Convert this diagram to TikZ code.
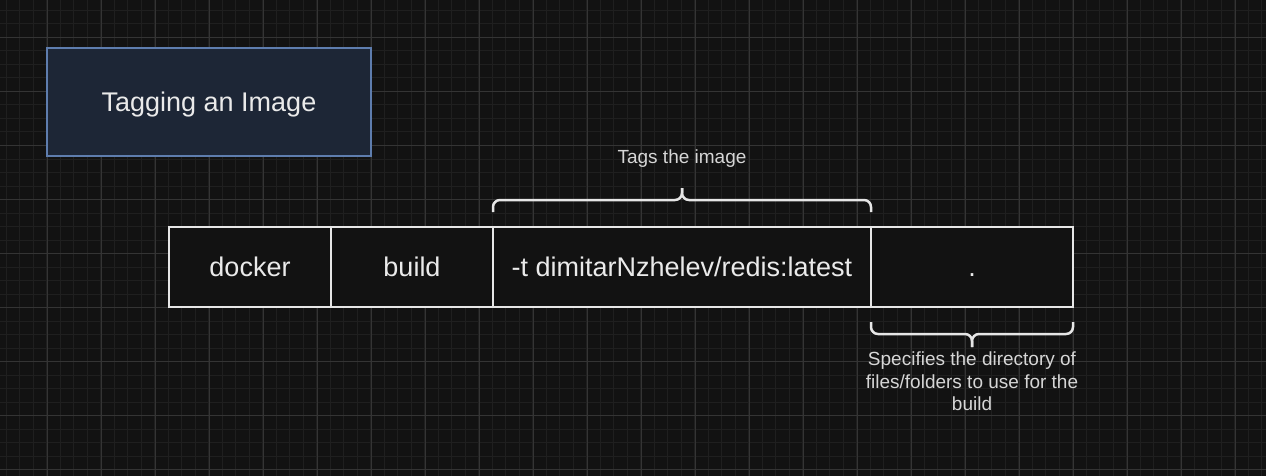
\documentclass[tikz,border=0pt]{standalone}
\usepackage{fontspec}
\setmainfont{Liberation Sans}
\definecolor{bg}{HTML}{121212}
\definecolor{gridminor}{HTML}{1F1F1F}
\definecolor{gridmajor}{HTML}{343434}
\definecolor{titlefill}{HTML}{1D2636}
\definecolor{titleborder}{HTML}{5E7DAE}
\definecolor{cellline}{HTML}{E6E6E6}
\definecolor{txt}{HTML}{EAEAEA}
\definecolor{smalltxt}{HTML}{D6D6D6}
\tikzset{
  minorline/.style={draw=gridminor, line width=1pt},
  majorline/.style={draw=gridmajor, line width=1pt},
  bigtext/.style={text=txt, font=\fontsize{27}{32}\selectfont, text height=25.1pt, text depth=5.7pt},
  titlebox/.style={bigtext, draw=titleborder, fill=titlefill, line width=2.5pt, minimum width=324pt, minimum height=108pt, inner sep=0pt},
  cell/.style={bigtext, draw=cellline, fill=bg, line width=2.5pt, minimum height=80pt, inner sep=0pt},
  bracestyle/.style={draw=cellline, line width=2.5pt, rounded corners=7pt},
  smalllabel/.style={text=smalltxt, font=\fontsize{19}{22.3}\selectfont, align=center, inner sep=0pt},
}
\begin{document}
\begin{tikzpicture}[x=1pt, y=-1pt]
\fill[bg] (0,0) rectangle (1266,476);
\useasboundingbox (0,0) rectangle (1266,476);
% grid
\foreach \i in {0,...,93} {\draw[minorline] ({6+13.5*\i},0) -- ({6+13.5*\i},476);}
\foreach \j in {0,...,35} {\draw[minorline] (0,{10.5+13.5*\j}) -- (1266,{10.5+13.5*\j});}
\foreach \i in {0,...,23} {\draw[majorline] ({-7+54*\i},0) -- ({-7+54*\i},476);}
\foreach \j in {0,...,9} {\draw[majorline] (0,{-16.5+54*\j}) -- (1266,{-16.5+54*\j});}
% title
\node[titlebox] (title) at (209,102) {Tagging an Image};
% command cells
\node[cell, minimum width=162pt] (docker) at (250,267) {docker};
\node[cell, minimum width=162pt] (build) at (412,267) {build};
\node[cell, minimum width=378pt] (tag) at (682,267) {-t dimitarNzhelev/redis:latest};
\node[cell, minimum width=202pt] (dot) at (972,267) {.};
% upper brace
\coordinate (ubl) at (493,212);
\coordinate (ubr) at (871,212);
\coordinate (ubtip) at (682,188);
\draw[bracestyle] (ubl) -- (493,200) -- (682,200) -- (ubtip);
\draw[bracestyle] (ubr) -- (871,200) -- (682,200) -- (ubtip);
\node[smalllabel, text height=17.7pt, text depth=4pt] (taglabel) at (682,157) {Tags the image};
% lower brace
\coordinate (lbl) at (871,322);
\coordinate (lbr) at (1073,322);
\coordinate (lbtip) at (972,347);
\draw[bracestyle] (lbl) -- (871,334) -- (972,334) -- (lbtip);
\draw[bracestyle] (lbr) -- (1073,334) -- (972,334) -- (lbtip);
\node[smalllabel, anchor=north] (dotlabel) at (972,352) {Specifies the directory of\\files/folders to use for the\\build};
\end{tikzpicture}
\end{document}
